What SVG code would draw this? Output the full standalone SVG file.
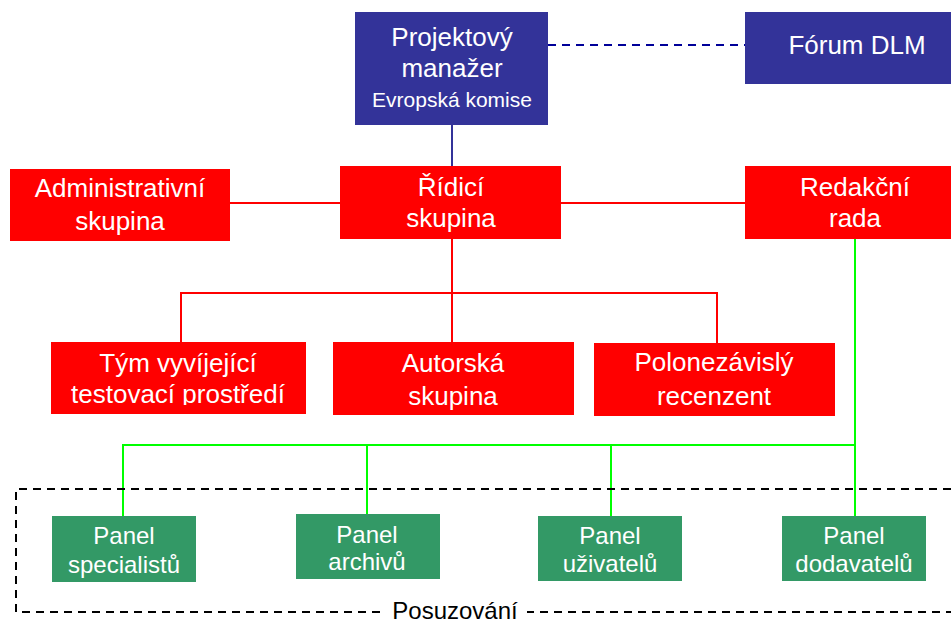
<svg xmlns="http://www.w3.org/2000/svg" width="951" height="623" viewBox="0 0 951 623">
<style>
.t{font-family:"Liberation Sans",Arial,sans-serif;fill:#fff;text-anchor:middle;font-size:26px}
.s{font-size:24px}
.navy{fill:#333399}
.red{fill:#ff0000}
.grn{fill:#339966}
.lr{stroke:#ff0000;stroke-width:2;fill:none}
.lg{stroke:#00ff00;stroke-width:2;fill:none}
</style>
<defs>
<clipPath id="clipTym"><rect x="51" y="342" width="255" height="63"/></clipPath>
</defs>
<g id="connectors">
<line x1="548" y1="45" x2="745" y2="45" stroke="#000099" stroke-width="2" stroke-dasharray="8 6"/>
<line x1="452" y1="125" x2="452" y2="166" stroke="#333399" stroke-width="2"/>
<line class="lr" x1="230" y1="203" x2="340" y2="203"/>
<line class="lr" x1="561" y1="203" x2="745" y2="203"/>
<path class="lr" d="M452 239 V342 M181 342 V293 H717 V343"/>
<path class="lg" d="M855 239 V516 M123 516 V445 H855 M367 445 V514 M611 445 V516"/>
</g>
<g id="posuzovani">
<path d="M951 489 H16 V612 H951" fill="none" stroke="#000" stroke-width="2" stroke-dasharray="8 6"/>
<rect x="383" y="600" width="144" height="23" fill="#fff"/>
<text class="t s" x="455" y="619" style="fill:#000">Posuzování</text>
</g>
<g id="projektovy">
<rect class="navy" x="355" y="12" width="193" height="113"/>
<text class="t" x="452" y="46">Projektový</text>
<text class="t" x="452" y="77">manažer</text>
<text class="t" x="452" y="107" style="font-size:21px">Evropská komise</text>
</g>
<g id="forum">
<rect class="navy" x="745" y="12" width="206" height="72"/>
<text class="t" x="857" y="54">Fórum DLM</text>
</g>
<g id="admin">
<rect class="red" x="10" y="169" width="220" height="72"/>
<text class="t" x="120" y="197">Administrativní</text>
<text class="t" x="120" y="230">skupina</text>
</g>
<g id="ridici">
<rect class="red" x="340" y="166" width="221" height="73"/>
<text class="t" x="451" y="196">Řídicí</text>
<text class="t" x="451" y="227">skupina</text>
</g>
<g id="redakcni">
<rect class="red" x="745" y="166" width="206" height="73"/>
<text class="t" x="855" y="196">Redakční</text>
<text class="t" x="855" y="227">rada</text>
</g>
<g id="tym">
<rect class="red" x="51" y="342" width="255" height="72"/>
<g clip-path="url(#clipTym)">
<text class="t" x="178" y="372">Tým vyvíjející</text>
<text class="t" x="178" y="403">testovací prostředí</text>
</g>
</g>
<g id="autorska">
<rect class="red" x="333" y="342" width="241" height="73"/>
<text class="t" x="453" y="372">Autorská</text>
<text class="t" x="453" y="405">skupina</text>
</g>
<g id="polonezavisly">
<rect class="red" x="594" y="343" width="241" height="73"/>
<text class="t" x="714" y="371">Polonezávislý</text>
<text class="t" x="714" y="405">recenzent</text>
</g>
<g id="panel-specialistu">
<rect class="grn" x="52" y="516" width="144" height="66"/>
<text class="t s" x="124" y="544">Panel</text>
<text class="t s" x="124" y="573">specialistů</text>
</g>
<g id="panel-archivu">
<rect class="grn" x="296" y="514" width="144" height="65"/>
<text class="t s" x="367" y="543">Panel</text>
<text class="t s" x="367" y="570">archivů</text>
</g>
<g id="panel-uzivatelu">
<rect class="grn" x="538" y="516" width="144" height="65"/>
<text class="t s" x="610" y="544">Panel</text>
<text class="t s" x="610" y="572">uživatelů</text>
</g>
<g id="panel-dodavatelu">
<rect class="grn" x="782" y="516" width="144" height="65"/>
<text class="t s" x="854" y="544">Panel</text>
<text class="t s" x="854" y="572">dodavatelů</text>
</g>
</svg>
